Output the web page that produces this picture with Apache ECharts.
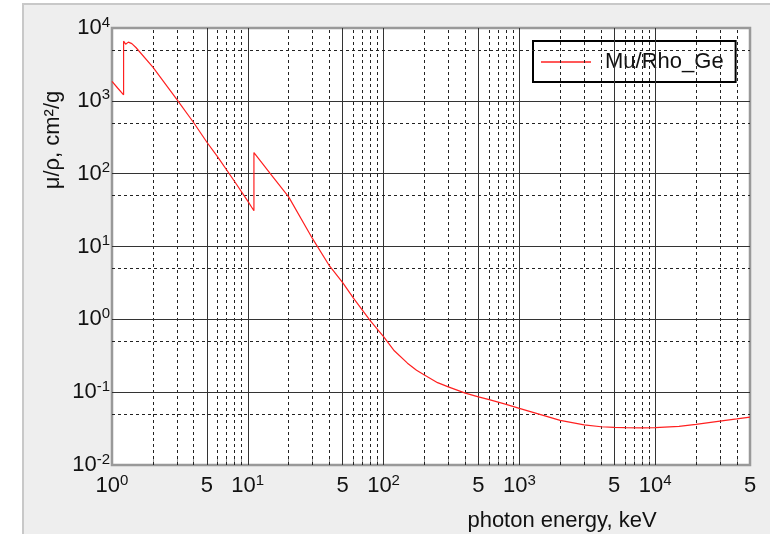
<!DOCTYPE html>
<html>
<head>
<meta charset="utf-8">
<script src="https://cdn.jsdelivr.net/npm/echarts@6/dist/echarts.min.js"></script>
<style>
  html, body { margin: 0; padding: 0; background: #ffffff; }
  #chart { width: 770px; height: 534px; }
</style>
</head>
<body>
<div id="chart"></div>
<script>
// Mass attenuation coefficient of germanium
const seriesName = 'Mu/Rho_Ge';
const energyKeV = [
  1.0, 1.1, 1.217, 1.217, 1.26, 1.32, 1.4, 1.5, 2, 3, 4, 5, 6, 8, 10, 11.1, 11.1,
  15, 20, 30, 40, 50, 60, 80, 100, 120, 150, 175, 200, 250, 300, 400, 500, 600, 800,
  1000, 1500, 2000, 3000, 4000, 5000, 6000, 8000, 10000, 15000, 20000, 30000, 40000, 50000
];
const muRho = [
  1850, 1500, 1210, 6600, 6000, 6400, 6100, 5400, 2900, 1050, 500, 270, 170, 78, 42, 31, 195,
  95, 48, 12.8, 5.4, 3.2, 1.95, 0.95, 0.58, 0.37, 0.25, 0.2, 0.172, 0.135, 0.118, 0.097, 0.086, 0.079, 0.068,
  0.060, 0.048, 0.041, 0.0355, 0.0335, 0.0328, 0.0325, 0.0323, 0.0325, 0.034, 0.0362, 0.040, 0.043, 0.0455
];

// Axis ranges and label positions
const xMin = 1, xMax = 50000;
const yMin = 0.01, yMax = 10000;
const xLabelValues = [1, 5, 10, 50, 100, 500, 1000, 5000, 10000, 50000];
const xMantissas = [1, 2, 3, 4, 5, 6, 7, 8, 9];
const yDecades = [0.01, 0.1, 1, 10, 100, 1000, 10000];

const points = energyKeV.map((e, i) => [e, muRho[i]]);

// Grid line positions
const xSolid = [], xDashed = [];
for (let d = 0; d <= 4; d++) {
  xMantissas.forEach(m => {
    const v = m * Math.pow(10, d);
    if (v <= xMin || v >= xMax) return;
    if (m === 1 || m === 5) xSolid.push(v); else xDashed.push(v);
  });
}
const ySolid = yDecades.filter(v => v > yMin && v < yMax);
const yDashed = yDecades.filter(v => v * 5 < yMax).map(v => v * 5);
const xTickValues = xSolid.concat(xDashed);

const solidStyle = { color: '#333', width: 1, type: 'solid' };
const dashStyle = { color: '#222', width: 1, type: [3, 3] };
const gridLines = []
  .concat(xSolid.map(v => ({ xAxis: v, lineStyle: solidStyle })))
  .concat(xDashed.map(v => ({ xAxis: v, lineStyle: dashStyle })))
  .concat(ySolid.map(v => ({ yAxis: v, lineStyle: solidStyle })))
  .concat(yDashed.map(v => ({ yAxis: v, lineStyle: dashStyle })));

function powLabel(v) {
  const e = Math.round(Math.log10(v));
  if (Math.abs(v - Math.pow(10, e)) < 1e-9 * v) return '{b|10}{e|' + e + '}';
  return '{b|' + Math.round(v / Math.pow(10, Math.floor(Math.log10(v)))) + '}';
}
const labelRich = {
  b: { fontSize: 22, lineHeight: 26, fontFamily: 'Liberation Sans', color: '#111' },
  e: { fontSize: 15, lineHeight: 15, verticalAlign: 'top', fontFamily: 'Liberation Sans', color: '#111' }
};

const chart = echarts.init(document.getElementById('chart'), null, { renderer: 'canvas' });
chart.setOption({
  animation: false,
  backgroundColor: '#ffffff',
  textStyle: { fontFamily: 'Liberation Sans' },
  graphic: [
    { type: 'rect', z: -10, shape: { x: 23, y: 4, width: 760, height: 540 },
      style: { fill: '#eeeeee', stroke: '#c8c8c8', lineWidth: 2 } },
    { type: 'text', z: 10, x: 562, y: 521,
      style: { text: 'photon energy, keV', fontSize: 22, fontFamily: 'Liberation Sans', fill: '#111',
               align: 'center', verticalAlign: 'middle' } },
    { type: 'text', z: 10, x: 53, y: 140, rotation: Math.PI / 2,
      style: { text: 'μ/ρ, cm²/g', fontSize: 22, fontFamily: 'Liberation Sans', fill: '#111',
               align: 'center', verticalAlign: 'middle' } }
  ],
  grid: {
    left: 112, top: 28, right: 20, bottom: 69,
    show: true, backgroundColor: '#ffffff', borderColor: '#999999', borderWidth: 2.5
  },
  legend: {
    show: true,
    left: 533, top: 41,
    data: [{ name: seriesName, icon: 'rect' }],
    backgroundColor: '#ffffff',
    borderColor: '#000000', borderWidth: 2,
    padding: [10, 12, 9, 8],
    itemWidth: 50, itemHeight: 1.5,
    itemStyle: { color: '#ff2020' },
    textStyle: { fontSize: 22, color: '#111', fontFamily: 'Liberation Sans', padding: [0, 0, 0, 9] }
  },
  xAxis: {
    type: 'log', logBase: 10, min: xMin, max: xMax,
    axisLine: { show: false },
    splitLine: { show: false },
    axisTick: { show: true, inside: true, length: 8, customValues: xTickValues,
                lineStyle: { color: '#999', width: 1 } },
    axisLabel: { customValues: xLabelValues, margin: 8, formatter: powLabel, rich: labelRich }
  },
  yAxis: {
    type: 'log', logBase: 10, min: yMin, max: yMax,
    axisLine: { show: false },
    splitLine: { show: false },
    axisTick: { show: true, inside: true, length: 10, lineStyle: { color: '#999', width: 1 } },
    axisLabel: { margin: 2, formatter: powLabel, rich: labelRich }
  },
  series: [
    {
      name: 'grid-lines', type: 'line', data: [], z: 1, silent: true,
      markLine: { silent: true, symbol: ['none', 'none'], label: { show: false },
                  animation: false, data: gridLines }
    },
    {
      name: seriesName, type: 'line', data: points, z: 5,
      symbol: 'none', showSymbol: false,
      lineStyle: { color: '#ff2020', width: 1.2 },
      itemStyle: { color: '#ff2020' }
    }
  ]
});
</script>
</body>
</html>
